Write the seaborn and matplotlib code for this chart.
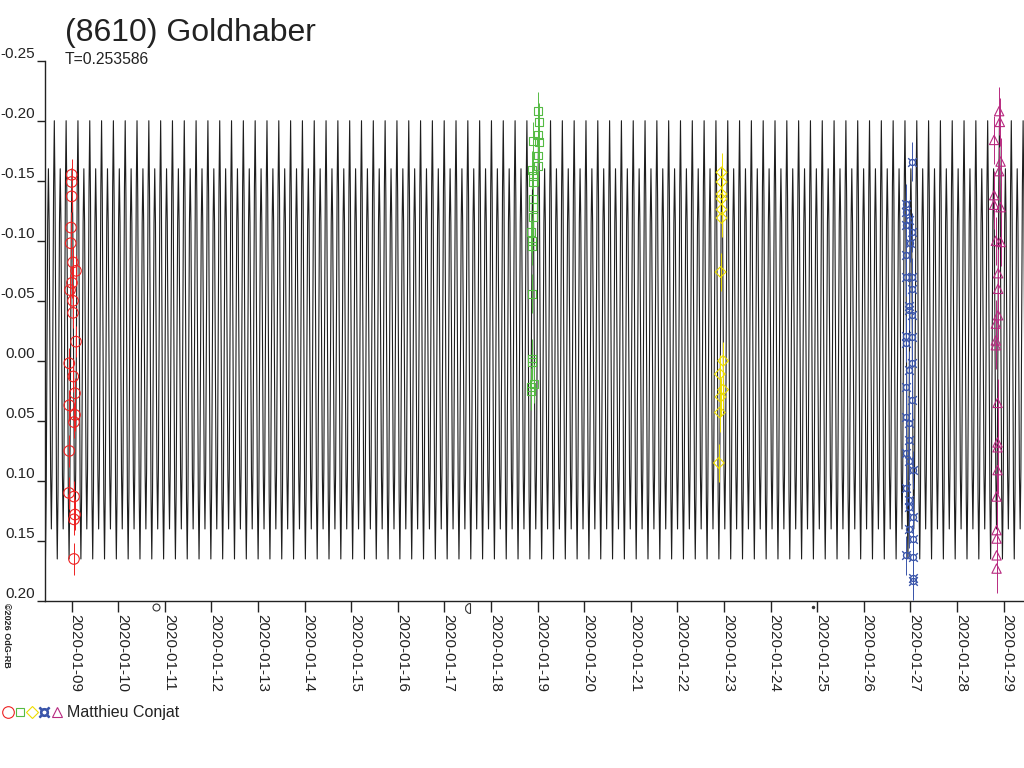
import numpy as np
import pandas as pd
import matplotlib
matplotlib.use('Agg')
import matplotlib.pyplot as plt
import matplotlib.dates as mdates
from matplotlib.lines import Line2D
from matplotlib.legend_handler import HandlerTuple
from matplotlib.path import Path
from matplotlib.ticker import FormatStrFormatter, MultipleLocator
import seaborn as sns

# --- DATA ---
TITLE = '(8610) Goldhaber'
PERIOD = 0.253586          # days
EPOCH_DAY = 8.627          # January day of a primary maximum
OBSERVER = 'Matthieu Conjat'

# one period of the model light curve (phase -> relative magnitude)
shape_phase = [0.0, 0.0625, 0.125, 0.1875, 0.25, 0.3125, 0.375, 0.4375,
               0.5, 0.5625, 0.625, 0.6875, 0.75, 0.8125, 0.875, 0.9375]
shape_mag = [-0.200, -0.135, -0.010, 0.115, 0.165, 0.110, -0.005, -0.115,
             -0.160, -0.115, -0.015, 0.095, 0.140, 0.090, -0.030, -0.145]

# session 1 (red circles)
s1_day = [9.000, 9.000, 9.000, 8.985, 8.979, 9.028, 9.092, 9.006, 8.964, 9.028,
          9.028, 9.092, 8.948, 9.034, 9.071, 8.948, 9.071, 9.049, 8.948, 8.942,
          9.049, 9.071, 9.049, 9.049]
s1_mag = [-0.155, -0.149, -0.137, -0.111, -0.098, -0.082, -0.075, -0.065, -0.059, -0.050,
          -0.040, -0.016, 0.002, 0.013, 0.027, 0.037, 0.045, 0.051, 0.075, 0.110,
          0.113, 0.128, 0.132, 0.165]
s1_err = 0.013

# session 2 (green squares)
s2_day = [19.013, 19.028, 19.013, 18.893, 19.028, 19.000, 19.000, 18.884, 18.893, 18.893,
          18.893, 18.893, 18.906, 18.856, 18.871, 18.884, 18.871, 18.871, 18.871, 18.927,
          18.850, 18.850]
s2_mag = [-0.208, -0.199, -0.188, -0.183, -0.182, -0.171, -0.162, -0.159, -0.154, -0.149,
          -0.135, -0.128, -0.120, -0.107, -0.100, -0.096, -0.056, -0.002, 0.001, 0.019,
          0.022, 0.025]
s2_err = 0.016

# session 3 (yellow diamonds)
s3_day = [22.948, 22.948, 22.948, 22.948, 22.948, 22.948, 22.927, 22.982, 22.912, 22.982,
          22.927, 22.912, 22.890]
s3_mag = [-0.157, -0.149, -0.139, -0.135, -0.126, -0.119, -0.074, 0.000, 0.011, 0.024,
          0.030, 0.043, 0.085]
s3_err = 0.016

# session 4 (blue)
s4_day = [27.026, 26.918, 26.918, 26.974, 26.918, 27.026, 26.989, 26.918, 26.918, 27.039,
          27.026, 26.974, 26.974, 27.026, 26.918, 27.026, 26.918, 27.026, 26.974, 26.918,
          27.026, 26.918, 26.974, 26.974, 26.918, 26.974, 27.060, 26.918, 26.974, 26.974,
          27.060, 26.974, 27.060, 26.918, 27.060, 27.060, 27.060]
s4_mag = [-0.166, -0.131, -0.124, -0.117, -0.113, -0.107, -0.098, -0.088, -0.070, -0.070,
          -0.060, -0.046, -0.042, -0.038, -0.021, -0.020, -0.015, 0.002, 0.008, 0.022,
          0.033, 0.047, 0.052, 0.066, 0.077, 0.083, 0.091, 0.106, 0.116, 0.122,
          0.130, 0.140, 0.148, 0.162, 0.163, 0.181, 0.183]
s4_err = 0.016

# session 5 (magenta triangles)
s5_day = [28.907, 28.922, 28.799, 28.937, 28.907, 28.799, 28.799, 28.937, 28.836, 28.937,
          28.885, 28.885, 28.885, 28.836, 28.836, 28.836, 28.872, 28.872, 28.872, 28.872,
          28.851, 28.851, 28.851, 28.851, 28.851]
s5_mag = [-0.208, -0.199, -0.184, -0.166, -0.158, -0.138, -0.130, -0.128, -0.100, -0.099,
          -0.073, -0.060, -0.038, -0.031, -0.017, -0.013, 0.035, 0.068, 0.072, 0.091,
          0.113, 0.141, 0.148, 0.162, 0.173]
s5_err = 0.020

# moon phases (January day)
full_moon_day = 10.806
last_quarter_day = 17.540
new_moon_day = 24.904

X_START_DAY, X_END_DAY = 8.427, 29.44
Y_TOP, Y_BOTTOM = -0.25, 0.20


def to_date(days):
    return pd.Timestamp('2020-01-01') + pd.to_timedelta(np.asarray(days, dtype=float) - 1, unit='D')


# --- STYLE ---
sns.set_style('ticks')
plt.rcParams['font.family'] = ['Liberation Sans', 'DejaVu Sans']
plt.rcParams['axes.unicode_minus'] = False

fig = plt.figure(figsize=(10.24, 7.68), dpi=100)
ax = fig.add_axes([45 / 1024, 1 - 601 / 768, 1 - 45 / 1024, (601 - 60.7) / 768])

# model light curve
cycles = np.arange(-1, 84)
curve_day = (EPOCH_DAY + (cycles[:, None] + np.array(shape_phase)[None, :]) * PERIOD).ravel()
curve_mag = np.tile(shape_mag, len(cycles))
curve = pd.DataFrame({'date': to_date(curve_day), 'mag': curve_mag})
sns.lineplot(data=curve, x='date', y='mag', ax=ax, color='#1e1e1e', linewidth=0.8,
             estimator=None, sort=False, zorder=2)

sessions = [
    (s1_day, s1_mag, s1_err, '#ee2222', 'o', 58),
    (s2_day, s2_mag, s2_err, '#55bb44', 's', 32),
    (s3_day, s3_mag, s3_err, '#eedd00', 'D', 30),
    (s4_day, s4_mag, s4_err, '#3a55aa', '$¤$', 48),
    (s5_day, s5_mag, s5_err, '#b82a80', '^', 45),
]
for day, mag, err, col, mk, size in sessions:
    dates = to_date(day)
    ax.errorbar(dates, mag, yerr=err, fmt='none', ecolor=col, elinewidth=0.7, zorder=3)
    if mk.startswith('$'):
        sns.scatterplot(x=dates, y=mag, ax=ax, marker=mk, s=size, color=col,
                        edgecolor=col, linewidth=0, zorder=4)
    else:
        sns.scatterplot(x=dates, y=mag, ax=ax, marker=mk, s=size, facecolors='none',
                        edgecolor=col, linewidth=0.8, zorder=4)

# moon phase symbols under the axis
half_moon = Path(np.vstack([Path.arc(90, 270).vertices, [[0.0, 1.0]]]))
xt = ax.get_xaxis_transform()
ax.plot([to_date([full_moon_day])[0]], [-0.011], transform=xt, marker='o', ms=5,
        mfc='none', mec='#333333', mew=0.8, clip_on=False, ls='none')
ax.plot([to_date([last_quarter_day])[0]], [-0.013], transform=xt, marker=half_moon, ms=7,
        mfc='none', mec='#333333', mew=0.8, clip_on=False, ls='none')
ax.plot([to_date([new_moon_day])[0]], [-0.011], transform=xt, marker='.', ms=3,
        color='#333333', clip_on=False, ls='none')

# axes
ax.set_xlim(to_date([X_START_DAY])[0], to_date([X_END_DAY])[0])
ax.set_ylim(Y_BOTTOM, Y_TOP)
ax.yaxis.set_major_locator(MultipleLocator(0.05))
ax.yaxis.set_major_formatter(FormatStrFormatter('%.2f'))
ax.xaxis.set_major_locator(mdates.DayLocator())
ax.xaxis.set_major_formatter(mdates.DateFormatter('%Y-%m-%d'))
ax.set_xlabel('')
ax.set_ylabel('')
sns.despine(ax=ax, top=True, right=True)
for side in ('left', 'bottom'):
    ax.spines[side].set_color('#222222')
    ax.spines[side].set_linewidth(1.0)
ax.tick_params(axis='y', direction='out', length=6, width=1, pad=1.5,
               labelsize=11, colors='#222222')
ax.tick_params(axis='x', direction='out', length=8, width=1, pad=1.5,
               labelsize=11, colors='#222222')
for lbl in ax.get_yticklabels():
    lbl.set_va('bottom')
plt.setp(ax.get_xticklabels(), rotation=-90, ha='left', va='baseline',
         rotation_mode='anchor')

# texts
fig.text(65 / 1024, 1 - 41 / 768, TITLE, fontsize=23, color='#222222', va='baseline')
fig.text(65 / 1024, 1 - 64 / 768, f'T={PERIOD}', fontsize=11.3, color='#222222', va='baseline')
fig.text(6 / 1024, 1 - 603 / 768, '©2026 OdG-RB', fontsize=6.5, fontweight='bold',
         rotation=-90, rotation_mode='anchor', ha='left', va='center', color='#222222')

# legend
handles = [Line2D([], [], ls='none', marker=mk, ms=(np.sqrt(size) * 1.1),
                  mfc=(col if mk.startswith('$') else 'none'), mec=col, mew=0.8)
           for _, _, _, col, mk, size in sessions]
fig.legend([tuple(handles)], [OBSERVER], handler_map={tuple: HandlerTuple(ndivide=None, pad=0)},
           loc='center left', bbox_to_anchor=(2 / 1024, 1 - 713 / 768),
           bbox_transform=fig.transFigure, frameon=False, fontsize=11.5,
           handlelength=3.8, handletextpad=0.3, borderpad=0, borderaxespad=0,
           labelcolor='#222222')

fig.savefig('out.png', dpi=100)
